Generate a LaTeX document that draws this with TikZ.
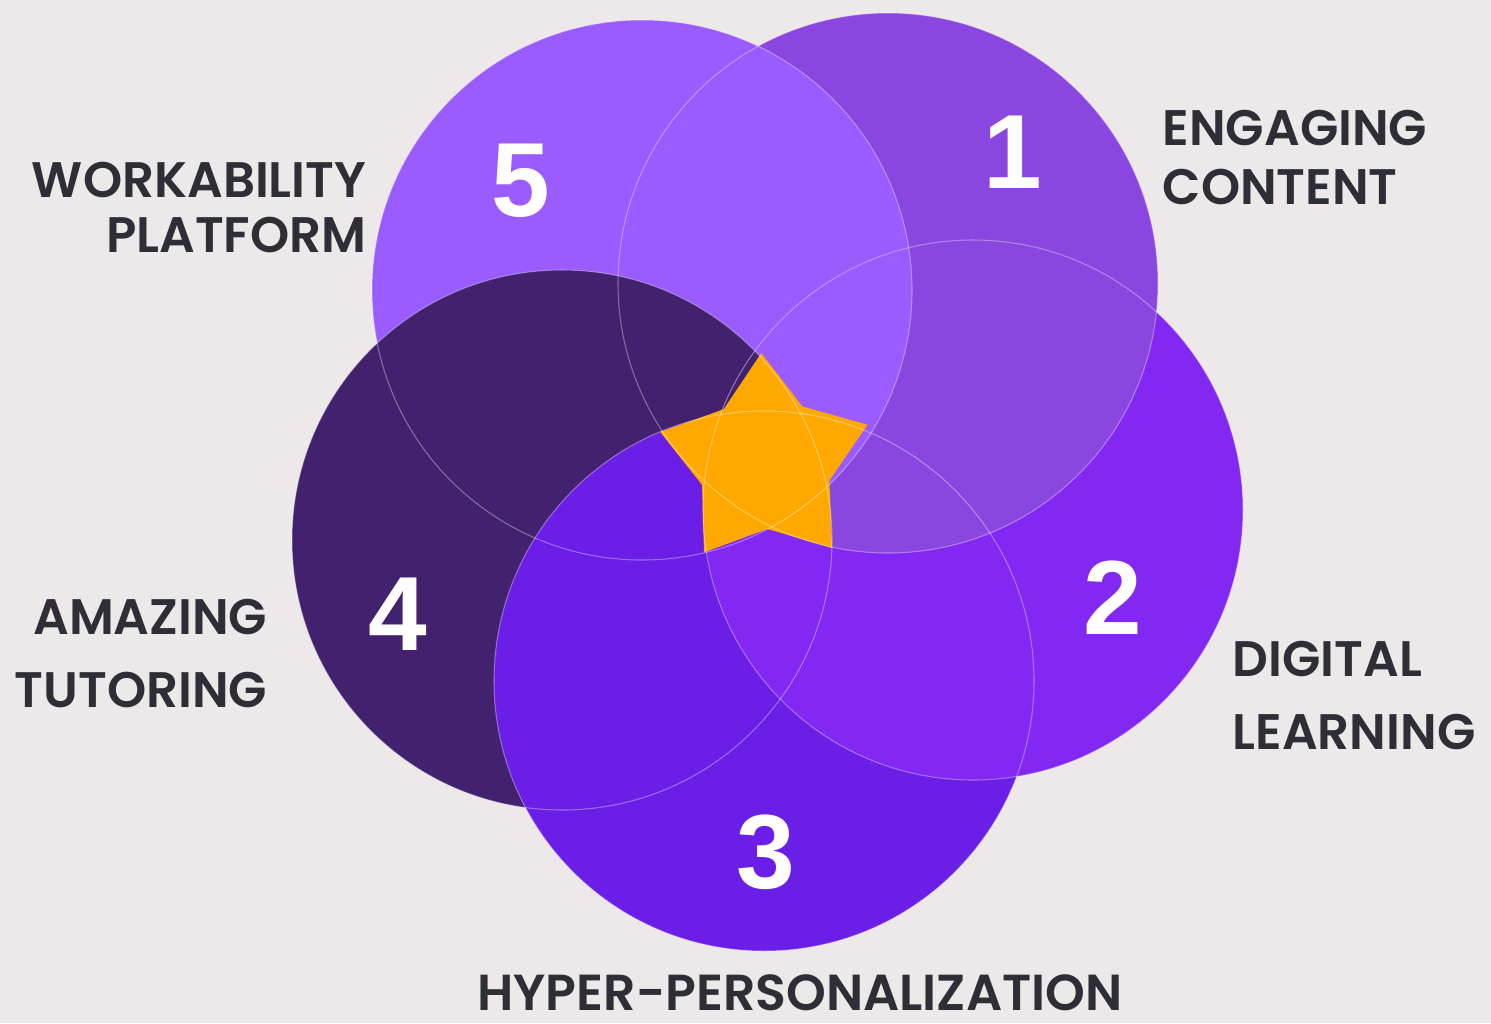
\documentclass[tikz,border=0pt]{standalone}
\usepackage{fontspec}
\newfontfamily\labelfont{Poppins SemiBold}
\newfontfamily\numfont{Liberation Sans}

\definecolor{bgpaper}{HTML}{EDE9EA}
\definecolor{ringone}{HTML}{8A47E0}
\definecolor{ringtwo}{HTML}{8228F2}
\definecolor{ringthree}{HTML}{6A1EE6}
\definecolor{ringfour}{HTML}{42216F}
\definecolor{ringfive}{HTML}{9A5CFF}
\definecolor{starfill}{HTML}{FFA900}
\definecolor{labelink}{HTML}{2F2D35}

\begin{document}
\begin{tikzpicture}[x=0.1mm, y=-0.1mm,
  lab/.style={text=labelink, inner sep=0pt},
  num/.style={font=\numfont\bfseries\fontsize{30}{30}\selectfont, text=white, inner sep=0pt},
  seam/.style={draw=white, draw opacity=0.35, line width=0.3pt}]
  \fill[bgpaper] (0,0) rectangle (1491,1023);

  \foreach \n/\cx/\cy in {1/888/283, 2/973/510, 3/764/681, 4/562/540, 5/642/290}
    \coordinate (c\n) at (\cx,\cy);

  % woven discs: 5 over 1, 4 over 5, 3 over 4, 2 over 3, 1 over 2
  \foreach \n/\col in {1/ringone, 5/ringfive, 4/ringfour, 3/ringthree, 2/ringtwo}
    \fill[\col] (c\n) circle[radius=27mm];
  \begin{scope}
    \clip (c2) circle[radius=27mm];
    \fill[ringone] (c1) circle[radius=27mm];
    \clip (c1) circle[radius=27mm];
    \fill[ringfive] (c5) circle[radius=27mm];
    \clip (c5) circle[radius=27mm];
    \fill[ringfour] (c4) circle[radius=27mm];
  \end{scope}

  % star in the middle
  \begin{scope}[shift={(765,462)}]
    \fill[starfill] (92:10.9mm)
      \foreach \a in {0,72,...,288} { -- ({128+\a}:6.7mm) -- ({164+\a}:10.9mm) } -- cycle;
  \end{scope}

  \foreach \n in {1,...,5}
    \draw[seam] (c\n) circle[radius=27mm];

  \node[num] (n1) at (1013,152) {1};
  \node[num] (n2) at (1113,598) {2};
  \node[num] (n3) at (766,852) {3};
  \node[num] (n4) at (398,614) {4};
  \node[num] (n5) at (521,181) {5};

  % anchors sit on the baseline of the last line
  \node[lab, font=\labelfont\fontsize{14.2}{16.6}\selectfont, anchor=base west, align=left]
    (engage) at (1162,204) {ENGAGING\\CONTENT};
  \node[lab, font=\labelfont\fontsize{14.2}{15.6}\selectfont, anchor=base east, align=right]
    (work) at (367,252) {WORKABILITY\\PLATFORM};
  \node[lab, font=\labelfont\fontsize{14.2}{20.7}\selectfont, anchor=base east, align=right]
    (tutor) at (268,707) {AMAZING\\TUTORING};
  \node[lab, font=\labelfont\fontsize{14.2}{20.7}\selectfont, anchor=base west, align=left]
    (digital) at (1232,749) {DIGITAL\\LEARNING};
  \node[lab, font=\labelfont\fontsize{14.4}{17}\selectfont, text depth=0pt, anchor=base]
    (hyper) at (800,1010) {HYPER-PERSONALIZATION};
\end{tikzpicture}
\end{document}
